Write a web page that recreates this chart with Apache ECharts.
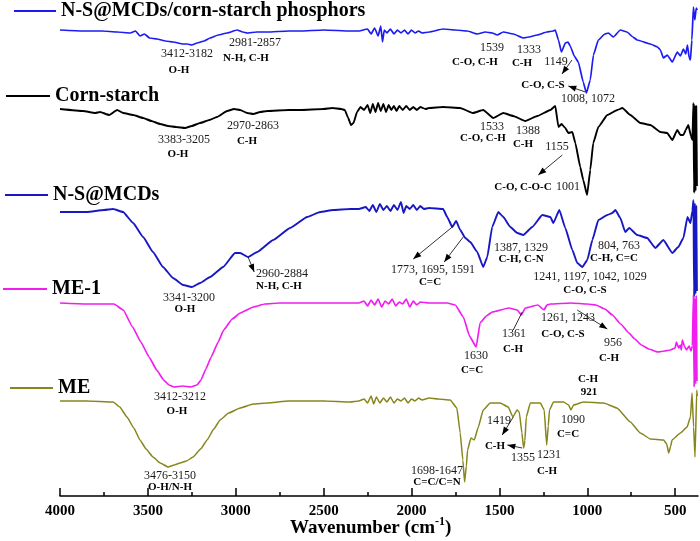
<!DOCTYPE html>
<html>
<head>
<meta charset="utf-8">
<title>FTIR spectra</title>
<script src="https://cdn.jsdelivr.net/npm/echarts@6.0.0/dist/echarts.min.js"></script>
<style>
html, body { margin: 0; padding: 0; background: #fff; }
#main { width: 700px; height: 541px; }
</style>
</head>
<body>
<div id="main"></div>
<script>
/**
 * Spectra, [wavenumber, transmittance (a.u., curves are offset)]
 */
var phosphorsData = [[4000,466],[3869,465],[3760,465],[3675,464],[3600,463],[3570,465],[3545,460],[3520,462],[3490,458],[3448,457],[3400,455],[3357,454],[3300,452],[3277,452],[3250,451],[3220,453],[3180,455],[3146,458],[3100,461],[3049,463],[2992,466],[2960,464],[2935,463],[2880,464],[2821,464],[2700,465],[2634,465],[2500,466],[2349,465],[2300,465],[2250,467],[2230,462],[2210,468],[2190,460],[2175,470],[2165,454],[2155,466],[2140,463],[2120,467],[2100,462],[2080,466],[2060,463],[2040,466],[2020,462],[2000,466],[1980,463],[1960,465],[1940,463],[1900,464],[1820,467],[1750,466],[1683,465],[1626,462],[1580,464],[1540,463],[1512,461],[1478,464],[1420,462],[1364,458],[1333,459],[1284,461],[1230,464],[1194,465],[1182,466],[1164,456],[1147,444],[1125,453],[1110,454],[1097,450],[1074,440],[1051,434],[1023,414],[1005,403],[983,416],[965,441],[937,456],[900,462],[880,463],[852,459],[812,466],[774,464],[740,459],[716,456],[641,452],[600,449],[584,446],[567,438],[545,441],[516,434],[488,444],[470,440],[453,447],[440,442],[430,451],[420,438],[413,436],[405,456],[396,489],[388,476],[380,488],[374,486]];

var cornStarchData = [[4000,387],[3869,385],[3800,383],[3772,384],[3720,381],[3675,386],[3640,383],[3584,381],[3527,378],[3480,375],[3430,372],[3385,370],[3340,369],[3288,368],[3250,370],[3203,373],[3150,376],[3107,379],[3049,385],[3010,387],[2975,386],[2935,383],[2900,382],[2861,384],[2821,385],[2700,386],[2634,386],[2500,387],[2450,388],[2400,387],[2380,386],[2360,378],[2345,371],[2330,373],[2310,384],[2290,389],[2270,386],[2250,391],[2235,383],[2220,392],[2205,384],[2190,393],[2175,385],[2160,392],[2145,384],[2130,391],[2115,386],[2100,390],[2085,385],[2070,390],[2050,386],[2030,390],[2010,386],[1990,389],[1970,386],[1950,389],[1920,387],[1900,388],[1820,389],[1723,388],[1651,383],[1592,386],[1535,378],[1478,383],[1421,380],[1353,375],[1284,380],[1210,386],[1182,390],[1164,369],[1147,372],[1125,368],[1108,363],[1085,364],[1068,353],[1040,329],[1023,316],[1001,301],[983,326],[966,353],[937,369],[886,381],[829,386],[800,388],[755,381],[698,373],[641,371],[584,364],[545,363],[516,356],[488,366],[470,361],[453,361],[440,366],[425,371],[410,360],[402,356],[396,393],[392,303],[388,391],[384,305],[380,390],[376,310]];

var mcdsData = [[4000,284],[3846,284],[3750,286],[3698,287],[3641,284],[3584,273],[3527,259],[3471,244],[3414,229],[3357,218],[3300,211],[3249,209],[3203,213],[3146,219],[3072,229],[3004,243],[2975,243],[2930,239],[2878,244],[2787,256],[2691,268],[2594,279],[2520,284],[2446,286],[2349,287],[2300,287],[2260,289],[2240,285],[2220,291],[2200,284],[2180,292],[2160,286],[2140,290],[2120,285],[2100,291],[2080,286],[2060,294],[2045,283],[2030,290],[2010,287],[1990,291],[1970,286],[1950,290],[1930,287],[1900,288],[1820,287],[1797,279],[1768,269],[1746,275],[1723,266],[1694,258],[1666,254],[1626,244],[1592,229],[1569,239],[1541,269],[1506,284],[1478,279],[1438,269],[1398,263],[1364,261],[1313,269],[1256,281],[1210,279],[1193,273],[1159,286],[1125,268],[1085,246],[1057,233],[1028,229],[1000,236],[971,256],[937,276],[886,281],[857,283],[840,286],[812,278],[784,264],[761,268],[716,261],[659,258],[613,248],[567,256],[516,243],[482,249],[453,258],[430,279],[413,273],[402,285],[396,296],[392,199],[388,293],[384,202],[380,290],[376,205]];

var me1Data = [[4000,193],[3850,192],[3693,192],[3640,186],[3587,169],[3540,154],[3493,139],[3450,126],[3410,116],[3380,111],[3351,109],[3300,110],[3257,109],[3220,111],[3198,116],[3170,127],[3140,139],[3100,154],[3069,166],[3020,177],[2975,183],[2900,189],[2834,192],[2750,193],[2646,193],[2500,193],[2411,193],[2300,193],[2270,195],[2250,190],[2230,196],[2210,191],[2190,197],[2170,189],[2150,195],[2130,192],[2110,197],[2090,190],[2070,194],[2050,192],[2030,197],[2010,189],[1990,195],[1970,191],[1950,194],[1900,193],[1798,193],[1751,191],[1705,179],[1670,160],[1632,149],[1610,173],[1575,180],[1540,184],[1446,188],[1398,186],[1375,181],[1353,188],[1281,191],[1246,186],[1230,191],[1210,192],[1093,193],[1000,192],[951,191],[900,187],[857,181],[810,172],[763,163],[730,157],[692,151],[650,147],[599,144],[560,145],[528,146],[500,148],[493,154],[480,148],[470,151],[465,146],[459,156],[448,150],[436,146],[420,150],[410,145],[402,150],[396,201],[392,109],[388,198],[384,112],[380,200],[376,115]];

var meData = [[4000,95],[3850,95],[3698,94],[3660,89],[3619,79],[3580,68],[3545,56],[3510,47],[3471,39],[3430,33],[3385,29],[3350,31],[3317,33],[3280,35],[3243,39],[3200,47],[3163,56],[3125,67],[3089,76],[3040,83],[2975,88],[2900,92],[2821,93],[2700,95],[2634,95],[2500,95],[2349,94],[2300,95],[2270,97],[2250,93],[2230,100],[2215,92],[2200,99],[2180,93],[2160,98],[2140,94],[2120,99],[2100,93],[2080,97],[2060,95],[2040,98],[2020,93],[2000,97],[1980,95],[1960,98],[1940,96],[1900,98],[1850,97],[1780,96],[1742,88],[1723,63],[1708,36],[1698,14],[1688,30],[1681,46],[1662,58],[1643,56],[1620,69],[1592,86],[1552,93],[1495,93],[1450,89],[1423,79],[1400,86],[1387,84],[1372,63],[1362,48],[1355,55],[1347,79],[1324,93],[1267,93],[1245,86],[1231,51],[1222,70],[1215,86],[1192,94],[1135,94],[1106,91],[1093,86],[1078,91],[1021,94],[907,93],[831,88],[755,74],[698,63],[641,57],[566,56],[548,52],[537,43],[525,50],[518,56],[470,63],[432,69],[413,79],[404,103],[395,69],[387,39],[377,106],[374,100]];

// x axis labels and minor ticks
var tickValues = [500, 1000, 1500, 2000, 2500, 3000, 3500, 4000];
var minorTickValues = [750, 1250, 1750, 2250, 2750, 3250, 3750];

var FONT = "'Times New Roman', 'Liberation Serif', serif";

/**
 * Series / legend setup
 */
var spectra = [
	{ name: 'N-S@MCDs/corn-starch phosphors', data: phosphorsData, color: '#1c1cf2', width: 1.7, legend: { left: 14, top: 1, w: 42 } },
	{ name: 'Corn-starch', data: cornStarchData, color: '#000000', width: 1.9, legend: { left: 6, top: 86, w: 44 } },
	{ name: 'N-S@MCDs', data: mcdsData, color: '#1717c4', width: 1.9, legend: { left: 5, top: 185, w: 43 } },
	{ name: 'ME-1', data: me1Data, color: '#f01ef0', width: 1.7, legend: { left: 3, top: 279, w: 44 } },
	{ name: 'ME', data: meData, color: '#86861c', width: 1.5, legend: { left: 10, top: 378, w: 43 } }
];

var chart = echarts.init(document.getElementById('main'));

var option = {
	animation: false,
	backgroundColor: '#fff',
	grid: { left: 60, right: 2, top: 0, bottom: 45 },
	legend: spectra.map(function(s) {
		return {
			data: [s.name],
			left: s.legend.left,
			top: s.legend.top,
			padding: 0,
			icon: 'rect',
			itemWidth: s.legend.w,
			itemHeight: 2,
			selectedMode: false,
			textStyle: { fontFamily: FONT, fontWeight: 'bold', fontSize: 20, color: '#000', lineHeight: 20 }
		};
	}),
	xAxis: [{
		type: 'value',
		min: 370,
		max: 4000,
		inverse: true,
		axisLine: { show: true, lineStyle: { color: '#000', width: 1.5 } },
		axisTick: { show: true, inside: true, length: 8, customValues: tickValues, lineStyle: { color: '#000', width: 1.5 } },
		axisLabel: {
			customValues: tickValues,
			margin: 8,
			color: '#000',
			fontFamily: FONT,
			fontWeight: 'bold',
			fontSize: 15,
			formatter: function(v) { return String(v); } // no thousands separator
		},
		splitLine: { show: false }
	}, {
		type: 'value',
		min: 370,
		max: 4000,
		inverse: true,
		position: 'bottom',
		offset: 0,
		axisLine: { show: false },
		axisTick: { show: true, inside: true, length: 4, customValues: minorTickValues, lineStyle: { color: '#000', width: 1.5 } },
		axisLabel: { show: false },
		splitLine: { show: false }
	}],
	yAxis: { type: 'value', min: 0, max: 496, show: false, splitLine: { show: false } },
	series: spectra.map(function(s) {
		return {
			name: s.name,
			type: 'line',
			data: s.data,
			showSymbol: false,
			symbol: 'none',
			silent: true,
			smooth: 0.12,
			smoothMonotone: 'x',
			color: s.color,
			lineStyle: { color: s.color, width: s.width }
		};
	})
};
chart.setOption(option);

/**
 * Peak annotations
 */
// text: [label, x, y, bold]
var notes = [
	['3412-3182', 187, 54, 0], ['O-H', 179, 70, 1], ['2981-2857', 255, 43, 0], ['N-H, C-H', 246, 58, 1],
	['1539', 492, 48, 0], ['C-O, C-H', 475, 62, 1], ['1333', 529, 50, 0], ['C-H', 522, 63, 1],
	['1149', 556, 62, 0], ['C-O, C-S', 543, 85, 1], ['1008, 1072', 588, 99, 0],
	['3383-3205', 184, 140, 0], ['O-H', 178, 154, 1], ['2970-2863', 253, 126, 0], ['C-H', 247, 141, 1],
	['1533', 492, 127, 0], ['C-O, C-H', 483, 138, 1], ['1388', 528, 131, 0], ['C-H', 523, 144, 1],
	['1155', 557, 147, 0], ['C-O, C-O-C', 523, 187, 1], ['1001', 568, 187, 0],
	['2960-2884', 282, 274, 0], ['N-H, C-H', 279, 286, 1], ['3341-3200', 189, 298, 0], ['O-H', 185, 309, 1],
	['1773, 1695, 1591', 433, 270, 0], ['C=C', 430, 282, 1], ['1387, 1329', 521, 248, 0], ['C-H, C-N', 521, 259, 1],
	['804, 763', 619, 246, 0], ['C-H, C=C', 614, 258, 1], ['1241, 1197, 1042, 1029', 590, 277, 0], ['C-O, C-S', 585, 290, 1],
	['1261, 1243', 568, 318, 0], ['1361', 514, 334, 0], ['C-H', 513, 349, 1], ['C-O, C-S', 563, 334, 1],
	['956', 613, 343, 0], ['C-H', 609, 358, 1], ['1630', 476, 356, 0], ['C=C', 472, 370, 1],
	['3412-3212', 180, 397, 0], ['O-H', 177, 411, 1], ['C-H', 588, 379, 1], ['921', 589, 392, 1],
	['1419', 499, 421, 0], ['1090', 573, 420, 0], ['C=C', 568, 434, 1], ['C-H', 495, 446, 1],
	['1355', 523, 458, 0], ['1231', 549, 455, 0], ['C-H', 547, 471, 1],
	['1698-1647', 437, 471, 0], ['C=C/C=N', 437, 482, 1], ['3476-3150', 170, 476, 0], ['O-H/N-H', 170, 487, 1]
];

// arrows in data coordinates: [from, to, arrowhead]
var arrows = [
	[[1087, 436], [1144, 422], true],
	[[1011, 404], [1108, 410], true],
	[[1142, 341], [1279, 321], true],
	[[2930, 239], [2895, 224], true],
	[[1768, 269], [1990, 237], true],
	[[1706, 259], [1814, 234], true],
	[[1057, 186], [886, 167], true],
	[[1421, 166], [1370, 184], false],
	[[1421, 79], [1484, 61], true],
	[[1370, 48], [1455, 51], true]
];

function toPx(p) {
	return chart.convertToPixel({ xAxisIndex: 0, yAxisIndex: 0 }, p);
}

var graphics = [];

notes.forEach(function(n) {
	graphics.push({
		type: 'text',
		x: n[1],
		y: n[2],
		z: 100,
		silent: true,
		style: {
			text: n[0],
			textAlign: 'center',
			verticalAlign: 'middle',
			textVerticalAlign: 'middle',
			fontFamily: FONT,
			fontSize: n[3] ? 11 : 12,
			fontWeight: n[3] ? 'bold' : 'normal',
			fill: n[3] ? '#000' : '#1a1a1a'
		}
	});
});

arrows.forEach(function(a) {
	var p1 = toPx(a[0]);
	var p2 = toPx(a[1]);
	graphics.push({
		type: 'line', z: 100, silent: true,
		shape: { x1: p1[0], y1: p1[1], x2: p2[0], y2: p2[1] },
		style: { stroke: '#000', lineWidth: 0.8 }
	});
	if (a[2]) {
		var dx = p2[0] - p1[0], dy = p2[1] - p1[1];
		var len = Math.sqrt(dx * dx + dy * dy);
		var ux = dx / len, uy = dy / len;
		var bx = p2[0] - ux * 8, by = p2[1] - uy * 8;
		graphics.push({
			type: 'polygon', z: 100, silent: true,
			shape: { points: [[p2[0], p2[1]], [bx - uy * 3, by + ux * 3], [bx + uy * 3, by - ux * 3]] },
			style: { fill: '#000' }
		});
	}
});

// axis title with superscript
graphics.push({
	type: 'text',
	x: 290,
	y: 528,
	z: 100,
	silent: true,
	style: {
		text: '{m|Wavenumber (cm}{s|-1}{m|)}',
		verticalAlign: 'middle',
		textVerticalAlign: 'middle',
		rich: {
			m: { fontFamily: FONT, fontWeight: 'bold', fontSize: 19, fill: '#000', color: '#000', lineHeight: 24 },
			s: { fontFamily: FONT, fontWeight: 'bold', fontSize: 12, fill: '#000', color: '#000', lineHeight: 24, verticalAlign: 'top' }
		}
	}
});

chart.setOption({ graphic: graphics });
</script>
</body>
</html>
